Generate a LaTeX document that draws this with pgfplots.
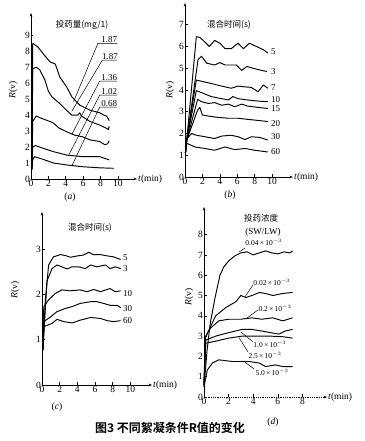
\documentclass[border=0pt]{standalone}
\usepackage{fontspec}
\setmainfont{Liberation Serif}
\newfontfamily\cjk{Noto Sans CJK SC}
\newfontfamily\cjkb{Noto Sans CJK SC Bold}
\usepackage{pgfplots}
\pgfplotsset{compat=1.18}
\usetikzlibrary{arrows.meta}
\tikzset{
  lbl/.style={font=\fontsize{9}{10}\selectfont, inner sep=0.5pt},
  slbl/.style={font=\fontsize{7.5}{8}\selectfont, inner sep=0.3pt},
}
\pgfplotsset{
  panel/.style={
    scale only axis, axis lines=left, enlargelimits=false,
    anchor=south west, xmin=0, ymin=0, clip=false,
    axis line style={line width=0.8pt,-{Stealth[length=3.5pt,width=2.6pt]}},
    tick align=inside, major tick length=2.5pt,
    tick style={black,line width=0.6pt},
    ticklabel style={font=\fontsize{9.5}{10}\selectfont, inner sep=1pt},
    /pgf/number format/assume math mode=true,
    cycle list={{black,solid}},
    every axis plot post/.append style={black, solid, line width=0.95pt, no marks, line join=round},
  },
}
\begin{document}
\begin{tikzpicture}
\path[use as bounding box] (0,0) rectangle (364pt,441pt);

% ---------------- (a)
\begin{axis}[panel, at={(31pt,262pt)}, width=106pt, height=166pt,
  xmax=12.2, ymax=10.4, xtick={0,2,...,10}, ytick={0,1,...,9}]
\addplot coordinates {(0.1,0.6) (0.2,8.5) (0.8,8.27) (1.4,7.85) (2.2,7.33) (2.8,7.2) (3.3,6.4) (4.1,5.77) (4.7,5.15) (5.6,4.63) (6.8,4.31) (7.9,4.15) (8.4,4.0) (8.7,3.95) (8.9,3.75) (9.0,3.65)};
\addplot coordinates {(0.1,0.6) (0.2,6.9) (0.6,7.0) (1.0,6.85) (1.6,6.2) (2.0,5.5) (2.4,5.15) (3.3,4.73) (4.1,4.3) (4.7,4.0) (5.4,4.0) (5.6,4.15) (5.8,3.95) (6.8,3.6) (7.9,3.38) (8.6,3.2) (8.9,3.1) (9.0,3.3)};
\addplot coordinates {(0.1,0.6) (0.2,3.6) (0.6,3.95) (1.2,3.8) (2.2,3.6) (2.6,3.5) (3.2,3.2) (4.1,2.96) (5.0,2.75) (5.9,2.65) (6.8,2.45) (7.9,2.35) (8.5,2.15) (8.8,2.2) (9.0,2.4)};
\addplot coordinates {(0.1,0.6) (0.2,2.0) (0.5,2.1) (1.4,1.92) (2.6,1.71) (4.1,1.5) (5.9,1.4) (7.9,1.4) (9.0,1.2)};
\addplot coordinates {(0.1,0.6) (0.2,1.2) (0.4,1.4) (1.4,1.23) (2.6,1.0) (4.1,0.88) (5.9,0.77) (7.9,0.7) (9.5,0.67)};
\draw[line width=0.5pt] (axis cs:4.9,4.85) -- (axis cs:7.7,8.5) -- (axis cs:9.9,8.5);
\draw[line width=0.5pt] (axis cs:4.7,4.25) -- (axis cs:8.2,7.44) -- (axis cs:9.9,7.44);
\draw[line width=0.5pt] (axis cs:4.7,2.8) -- (axis cs:7.9,6.13) -- (axis cs:9.9,6.13);
\draw[line width=0.5pt] (axis cs:4.3,1.45) -- (axis cs:7.9,5.25) -- (axis cs:9.9,5.25);
\draw[line width=0.5pt] (axis cs:4.7,0.82) -- (axis cs:7.9,4.5) -- (axis cs:9.9,4.5);
\node[lbl,anchor=south] at (axis cs:9.0,8.5) {1.87};
\node[lbl,anchor=south] at (axis cs:9.1,7.44) {1.87};
\node[lbl,anchor=south] at (axis cs:9.0,6.13) {1.36};
\node[lbl,anchor=south] at (axis cs:9.0,5.25) {1.02};
\node[lbl,anchor=south] at (axis cs:9.0,4.5) {0.68};
\node[font=\fontsize{9.5}{10}\selectfont, anchor=west, inner sep=1pt] at (rel axis cs:1,0) {\textit{t}(min)};
\end{axis}
\node[font=\cjk\fontsize{8.5}{9}\selectfont] at (82pt,416pt) {投药量(mg/1)};
\node[rotate=90,font=\fontsize{9.5}{10}\selectfont] at (13pt,351pt) {\textit{R}(v)};
\node[font=\fontsize{9.5}{10}\selectfont] at (70pt,244pt) {(\textit{a})};

% ---------------- (b)
\begin{axis}[panel, at={(185pt,264pt)}, width=108pt, height=174pt,
  xmax=12.4, ymax=8.0, xtick={0,2,...,10}, ytick={0,1,...,7}]
\addplot coordinates {(0.05,1.1) (0.2,1.7) (1.3,6.45) (1.7,6.42) (2.3,6.2) (2.8,6.0) (3.4,6.28) (4.0,6.15) (4.6,5.9) (5.3,5.9) (6.1,6.15) (6.7,5.9) (7.4,6.15) (8.2,6.0) (9.0,5.85) (9.5,5.7)};
\addplot coordinates {(0.05,1.1) (0.2,1.7) (1.5,5.4) (1.9,5.55) (2.5,5.23) (3.4,5.15) (4.0,5.26) (4.6,5.15) (5.9,5.15) (6.5,4.9) (7.1,5.08) (7.8,5.0) (8.6,4.92) (9.4,4.85)};
\addplot coordinates {(0.05,1.1) (0.2,1.7) (1.3,4.46) (1.9,4.4) (3.0,4.3) (4.2,4.18) (5.3,4.08) (6.1,4.18) (6.7,4.15) (7.6,4.12) (8.4,3.92) (9.0,4.23) (9.5,4.08)};
\addplot coordinates {(0.05,1.1) (0.2,1.7) (1.3,3.97) (1.9,3.88) (3.0,3.7) (4.2,3.6) (5.0,3.54) (5.5,3.7) (6.1,3.6) (7.2,3.54) (8.4,3.49) (9.5,3.46)};
\addplot coordinates {(0.05,1.1) (0.2,1.7) (1.45,3.57) (1.9,3.46) (2.7,3.38) (3.4,3.42) (4.2,3.3) (5.0,3.35) (5.7,3.23) (6.5,3.35) (7.2,3.26) (8.4,3.2) (9.5,3.15)};
\addplot coordinates {(0.05,1.1) (0.2,1.7) (1.45,3.08) (1.7,3.2) (2.0,2.85) (2.7,2.8) (3.8,2.74) (5.0,2.7) (6.1,2.7) (7.2,2.65) (8.4,2.6) (9.5,2.55)};
\addplot coordinates {(0.05,1.1) (0.2,1.75) (0.75,2.0) (1.3,1.92) (2.3,1.85) (3.4,1.77) (4.2,1.88) (5.3,1.92) (6.1,1.85) (6.9,1.72) (7.6,1.85) (8.6,1.82) (9.5,1.7)};
\addplot coordinates {(0.05,1.1) (0.2,1.55) (1.15,1.38) (2.3,1.31) (3.4,1.23) (4.6,1.38) (5.7,1.26) (6.9,1.31) (8.0,1.23) (9.5,1.15)};
\node[lbl,anchor=west] at (axis cs:9.8,5.77) {5};
\node[lbl,anchor=west] at (axis cs:9.8,4.85) {3};
\node[lbl,anchor=west] at (axis cs:9.8,4.13) {7};
\node[lbl,anchor=west] at (axis cs:9.8,3.55) {10};
\node[lbl,anchor=west] at (axis cs:9.8,3.16) {15};
\node[lbl,anchor=west] at (axis cs:9.8,2.44) {20};
\node[lbl,anchor=west] at (axis cs:9.8,1.85) {30};
\node[lbl,anchor=west] at (axis cs:9.8,1.16) {60};
\node[font=\fontsize{9.5}{10}\selectfont, anchor=west, inner sep=1pt] at (rel axis cs:1,0) {\textit{t}(min)};
\end{axis}
\node[font=\cjk\fontsize{8.5}{9}\selectfont] at (229pt,416pt) {混合时间(s)};
\node[rotate=90,font=\fontsize{9.5}{10}\selectfont] at (170pt,351pt) {\textit{R}(v)};
\node[font=\fontsize{9.5}{10}\selectfont] at (230pt,246pt) {(\textit{b})};

% ---------------- (c)
\begin{axis}[panel, at={(42pt,56pt)}, width=110pt, height=173pt,
  xmax=12.45, ymax=3.82, xtick={0,2,...,10}, ytick={0,1,2,3}]
\addplot coordinates {(0.1,0.77) (0.38,1.88) (0.75,2.65) (1.3,2.83) (2.1,2.88) (2.8,2.85) (3.2,2.82) (4.0,2.85) (4.7,2.87) (5.3,2.93) (5.8,2.88) (6.6,2.88) (7.4,2.85) (8.1,2.83) (8.9,2.77)};
\addplot coordinates {(0.1,0.77) (0.57,2.3) (1.13,2.57) (1.7,2.65) (2.26,2.61) (2.83,2.56) (3.4,2.61) (4.15,2.61) (4.9,2.57) (5.5,2.65) (6.2,2.61) (7.2,2.65) (7.7,2.57) (8.3,2.61) (8.9,2.57)};
\addplot coordinates {(0.1,0.77) (0.2,1.73) (0.75,1.88) (1.5,2.02) (2.26,2.1) (3.2,2.08) (4.3,2.1) (5.1,2.06) (5.85,2.11) (6.6,2.06) (7.7,2.13) (8.3,2.06) (8.9,2.08)};
\addplot coordinates {(0.1,0.77) (0.2,1.4) (0.94,1.5) (1.7,1.62) (2.64,1.69) (3.4,1.73) (4.3,1.8) (5.5,1.84) (6.2,1.84) (7.0,1.8) (7.7,1.76) (8.5,1.76) (8.9,1.71)};
\addplot coordinates {(0.1,0.77) (0.2,1.29) (1.13,1.36) (1.7,1.45) (2.45,1.4) (3.4,1.37) (4.3,1.43) (5.5,1.49) (6.6,1.47) (7.4,1.42) (8.1,1.4) (8.9,1.42)};
\node[lbl,anchor=west] at (axis cs:9.1,2.82) {5};
\node[lbl,anchor=west] at (axis cs:9.1,2.57) {3};
\node[lbl,anchor=west] at (axis cs:9.1,2.02) {10};
\node[lbl,anchor=west] at (axis cs:9.1,1.69) {30};
\node[lbl,anchor=west] at (axis cs:9.1,1.43) {60};
\node[font=\fontsize{9.5}{10}\selectfont, anchor=west, inner sep=1pt] at (rel axis cs:1,0) {\textit{t}(min)};
\end{axis}
\node[font=\cjk\fontsize{8.5}{9}\selectfont] at (90pt,213pt) {混合时间(s)};
\node[rotate=90,font=\fontsize{9.5}{10}\selectfont] at (15pt,151pt) {\textit{R}(v)};
\node[font=\fontsize{9.5}{10}\selectfont] at (57pt,34pt) {(\textit{c})};

% ---------------- (d)
\begin{axis}[panel, at={(204pt,44pt)}, width=123pt, height=190pt,
  xmax=10, ymax=9.36, xtick={0,2,...,8}, ytick={0,1,...,8},
  x axis line style={densely dotted}]
\addplot coordinates {(0,0.5) (0.25,2.3) (0.5,3.6) (0.9,4.9) (1.3,6.0) (1.6,6.4) (2.0,6.7) (2.5,6.95) (3.0,7.1) (3.5,7.15) (4.0,7.0) (4.5,7.1) (5.0,7.2) (5.5,7.1) (6.0,7.05) (6.5,7.15) (7.0,7.1) (7.2,7.2)};
\addplot coordinates {(0,0.6) (0.1,2.9) (0.4,3.3) (0.95,4.0) (1.76,4.4) (2.6,4.7) (3.0,5.0) (3.4,4.9) (3.9,5.0) (4.5,5.15) (5.0,5.1) (5.6,5.0) (6.4,5.1) (7.2,5.15)};
\addplot coordinates {(0,0.6) (0.14,3.0) (0.54,3.4) (1.2,3.75) (2.0,3.83) (3.0,3.83) (3.9,3.9) (4.7,3.83) (5.6,3.9) (6.4,3.75) (7.2,3.9)};
\addplot coordinates {(0,0.6) (0.14,2.8) (0.95,3.0) (2.0,3.17) (3.1,3.33) (3.9,3.33) (4.7,3.25) (5.4,3.17) (6.1,3.1) (6.6,3.25) (7.2,3.33)};
\addplot coordinates {(0,0.6) (0.14,2.65) (0.95,2.75) (2.0,2.9) (3.1,3.0) (4.2,3.0) (5.3,3.0) (6.4,2.97) (7.2,2.9)};
\addplot coordinates {(0,0.5) (0.27,1.33) (0.68,1.67) (1.2,1.83) (2.3,1.75) (3.66,1.75) (4.5,1.67) (5.0,1.5) (5.8,1.58) (6.4,1.5) (7.2,1.5)};
\draw[line width=0.5pt] (axis cs:2.85,7.14) -- (axis cs:3.33,7.34);
\draw[line width=0.5pt] (axis cs:3.33,4.93) -- (axis cs:3.98,5.52);
\draw[line width=0.5pt] (axis cs:3.5,3.89) -- (axis cs:4.39,4.29);
\draw[line width=0.5pt] (axis cs:3.0,3.2) -- (axis cs:3.98,2.72);
\draw[line width=0.5pt] (axis cs:2.85,2.92) -- (axis cs:3.6,2.2);
\draw[line width=0.5pt] (axis cs:3.33,1.72) -- (axis cs:4.07,1.38);
\node[slbl,anchor=west] at (axis cs:3.33,7.6) {0.04\,×\,10$^{-3}$};
\node[slbl,anchor=west] at (axis cs:3.98,5.67) {0.02\,×\,10$^{-3}$};
\node[slbl,anchor=west] at (axis cs:4.39,4.38) {0.2\,×\,10$^{-3}$};
\node[slbl,anchor=west] at (axis cs:3.98,2.6) {1.0\,×\,10$^{-3}$};
\node[slbl,anchor=west] at (axis cs:3.58,2.05) {2.5\,×\,10$^{-3}$};
\node[slbl,anchor=west] at (axis cs:4.15,1.23) {5.0\,×\,10$^{-3}$};
\node[font=\fontsize{9.5}{10}\selectfont, anchor=west, inner sep=1pt] at (rel axis cs:1,0) {\textit{t}(min)};
\end{axis}
\node[font=\cjk\fontsize{8.5}{9}\selectfont] at (261pt,223pt) {投药浓度};
\node[font=\fontsize{9}{10}\selectfont] at (263pt,209pt) {(SW/LW)};
\node[rotate=90,font=\fontsize{9.5}{10}\selectfont] at (189pt,144pt) {\textit{R}(v)};
\node[font=\fontsize{9.5}{10}\selectfont] at (273pt,19pt) {(\textit{d})};

% caption
\node[font=\cjkb\fontsize{12}{13}\selectfont] at (170pt,13pt) {图3\ 不同絮凝条件R值的变化};
\end{tikzpicture}
\end{document}
